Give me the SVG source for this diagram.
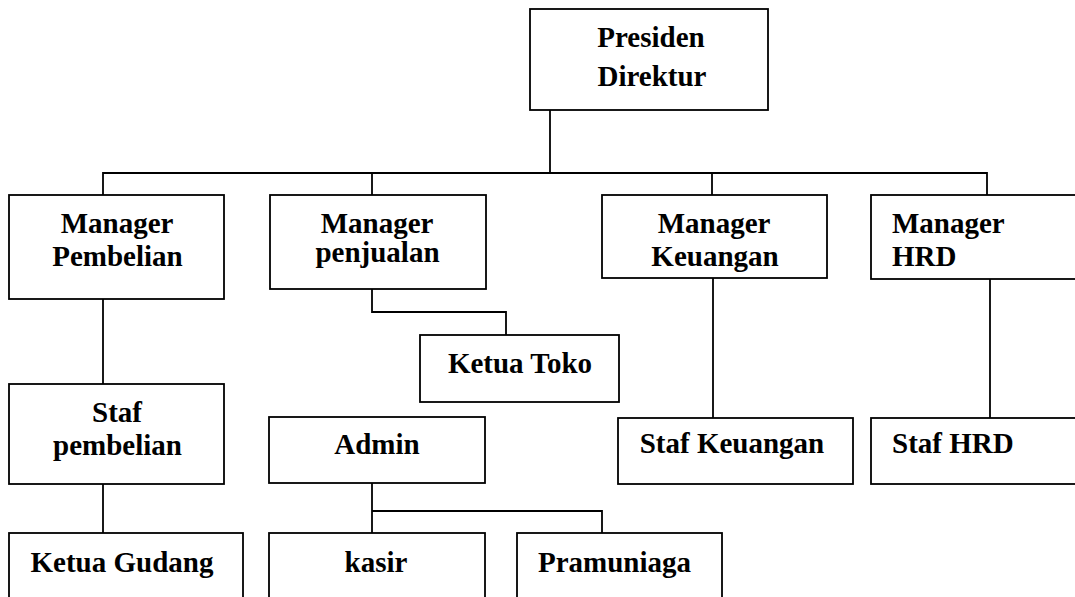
<svg xmlns="http://www.w3.org/2000/svg" width="1075" height="597" viewBox="0 0 1075 597">
<style>
.box{fill:#fff;stroke:#000;stroke-width:1.8}
.t{font-family:"Liberation Serif","Times New Roman",serif;font-weight:bold;font-size:29px;fill:#000}
.c{text-anchor:middle}
.ln{fill:none;stroke:#000;stroke-width:1.8}
</style>
<rect width="1075" height="597" fill="#fff"/>
<g id="connectors">
<path class="ln" d="M550 110 V173"/>
<path class="ln" d="M103 195 V173 H987 V195"/>
<path class="ln" d="M372 173 V195"/>
<path class="ln" d="M712 173 V195"/>
<path class="ln" d="M103 299 V384"/>
<path class="ln" d="M103 484 V533"/>
<path class="ln" d="M372 289 V312 H506 V335"/>
<path class="ln" d="M713 278 V418"/>
<path class="ln" d="M990 279 V418"/>
<path class="ln" d="M372 483 V533"/>
<path class="ln" d="M372 511 H602 V533"/>
</g>
<g id="presiden"><rect class="box" x="530" y="9" width="238" height="101"/><text class="t c" x="651" y="47">Presiden</text><text class="t c" x="652" y="86">Direktur</text></g>
<g id="mgr-pembelian"><rect class="box" x="9" y="195" width="215" height="104"/><text class="t c" x="117" y="233">Manager</text><text class="t c" x="117.5" y="266">Pembelian</text></g>
<g id="mgr-penjualan"><rect class="box" x="270" y="195" width="216" height="94"/><text class="t c" x="377" y="233">Manager</text><text class="t c" x="377.5" y="262">penjualan</text></g>
<g id="mgr-keuangan"><rect class="box" x="602" y="195" width="225" height="83"/><text class="t c" x="714" y="233">Manager</text><text class="t c" x="715" y="266">Keuangan</text></g>
<g id="mgr-hrd"><rect class="box" x="871" y="195" width="220" height="84"/><text class="t" x="892" y="233">Manager</text><text class="t" x="892" y="266">HRD</text></g>
<g id="ketua-toko"><rect class="box" x="420" y="335" width="199" height="67"/><text class="t c" x="520" y="373">Ketua Toko</text></g>
<g id="staf-pembelian"><rect class="box" x="9" y="384" width="215" height="100"/><text class="t c" x="117" y="422">Staf</text><text class="t c" x="117.5" y="455">pembelian</text></g>
<g id="admin"><rect class="box" x="269" y="417" width="216" height="66"/><text class="t c" x="377" y="454">Admin</text></g>
<g id="staf-keuangan"><rect class="box" x="618" y="418" width="235" height="66"/><text class="t c" x="732" y="453">Staf Keuangan</text></g>
<g id="staf-hrd"><rect class="box" x="871" y="418" width="220" height="66"/><text class="t" x="892" y="453">Staf HRD</text></g>
<g id="ketua-gudang"><rect class="box" x="9" y="533" width="234" height="80"/><text class="t c" x="122" y="572">Ketua Gudang</text></g>
<g id="kasir"><rect class="box" x="269" y="533" width="216" height="80"/><text class="t c" x="376" y="572">kasir</text></g>
<g id="pramuniaga"><rect class="box" x="517" y="533" width="205" height="80"/><text class="t c" x="614.5" y="572">Pramuniaga</text></g>
</svg>
